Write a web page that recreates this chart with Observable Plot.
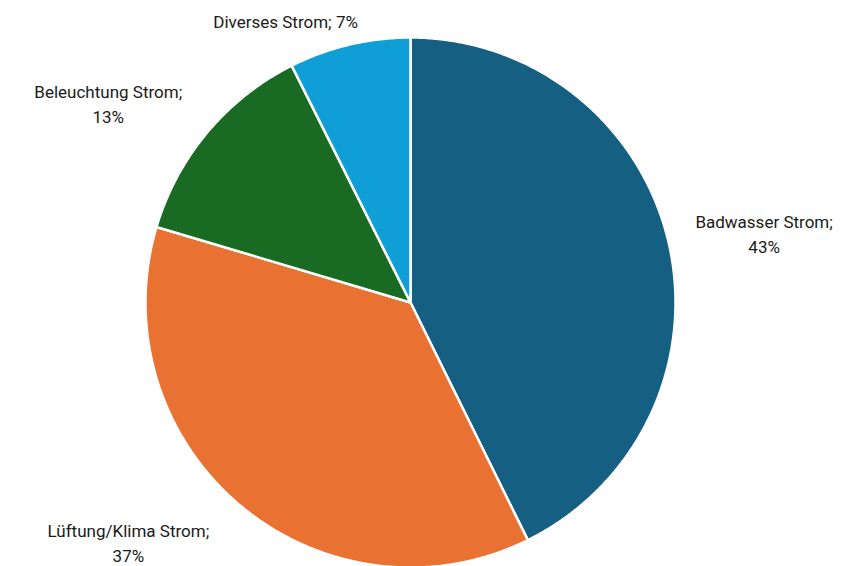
<!DOCTYPE html>
<html>
<head>
<meta charset="utf-8">
<script src="https://cdn.jsdelivr.net/npm/d3@7"></script>
<script src="https://cdn.jsdelivr.net/npm/@observablehq/plot@0.6"></script>
<style>
  html, body { margin: 0; padding: 0; background: #fff; }
  #chart { width: 842px; height: 566px; overflow: hidden; }
</style>
</head>
<body>
<div id="chart"></div>
<script>
// Data
const categories = ["Badwasser Strom", "Lüftung/Klima Strom", "Beleuchtung Strom", "Diverses Strom"];
const shares = [42.7, 36.9, 13.0, 7.4];
const colors = ["#156082", "#E97132", "#196B24", "#0F9ED5"];
const twoLineLabel = [true, true, true, false];

// Layout (label placement relative to slice mid-angle)
const labelRadius = [1.36, 1.395, 1.367, 1.167];
const labelAngleNudge = [2, 9.6, -6.5, -10.5]; // degrees

const W = 842, H = 566, R = 265, CX = 410, CY = 302;

const total = d3.sum(shares);
const polyPoints = [];
const labels = [];
let start = 0;
categories.forEach((name, i) => {
  const a0 = start / total * 2 * Math.PI;
  const a1 = (start + shares[i]) / total * 2 * Math.PI;
  polyPoints.push({name, x: 0, y: 0});
  const n = Math.max(2, Math.ceil((a1 - a0) / (Math.PI / 360)));
  for (let k = 0; k <= n; k++) {
    const a = a0 + (a1 - a0) * k / n;
    polyPoints.push({name, x: Math.sin(a), y: Math.cos(a)});
  }
  polyPoints.push({name, x: 0, y: 0});
  const mid = (a0 + a1) / 2 + labelAngleNudge[i] * Math.PI / 180;
  const pct = Math.round(shares[i] / total * 100) + "%";
  labels.push({
    name,
    x: labelRadius[i] * Math.sin(mid),
    y: labelRadius[i] * Math.cos(mid),
    text: twoLineLabel[i] ? `${name};\n${pct}` : `${name}; ${pct}`
  });
  start += shares[i];
});

const chart = Plot.plot({
  width: W,
  height: H,
  margin: 0,
  x: {domain: [-CX / R, (W - CX) / R], axis: null},
  y: {domain: [-(H - CY) / R, CY / R], axis: null},
  color: {domain: categories, range: colors},
  style: {background: "#fff", fontFamily: "Roboto, sans-serif"},
  marks: [
    Plot.line(polyPoints, {
      x: "x", y: "y", z: "name", fill: "name",
      stroke: "#fff", strokeWidth: 2.5, strokeLinejoin: "miter", curve: "linear"
    }),
    Plot.text(labels, {
      x: "x", y: "y", text: "text",
      fontSize: 17, lineHeight: 1.47, fill: "#1a1a1a", textAnchor: "middle"
    })
  ]
});
document.getElementById("chart").appendChild(chart);
</script>
</body>
</html>
